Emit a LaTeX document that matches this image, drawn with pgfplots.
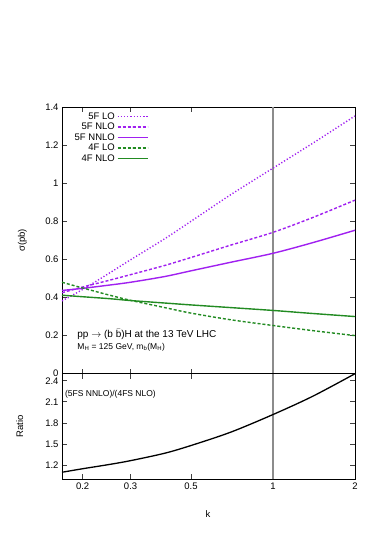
\documentclass[border=0pt]{standalone}
\usepackage{fontspec}
\setmainfont{Liberation Sans}
\usepackage{pgfplots}
\usepackage{pgfplotstable}
\pgfplotsset{compat=1.18}

\definecolor{fivef}{RGB}{160,32,240}
\definecolor{fourf}{RGB}{34,139,34}
\definecolor{kline}{RGB}{140,140,140}

% cross sections (pb) vs k
\pgfplotstableread{
k     lo5    nlo5   nnlo5  lo4    nlo4
0.168 0.382  0.425  0.437  0.480  0.412
0.2   0.442  0.455  0.448  0.450  0.404
0.25  0.527  0.490  0.465  0.413  0.394
0.3   0.598  0.520  0.480  0.385  0.384
0.4   0.708  0.568  0.510  0.347  0.371
0.5   0.800  0.610  0.540  0.318  0.361
0.7   0.940  0.675  0.585  0.283  0.347
1     1.079  0.742  0.632  0.253  0.332
1.4   1.210  0.820  0.688  0.226  0.316
2     1.353  0.911  0.753  0.200  0.300
}\xsec

% (5FS NNLO)/(4FS NLO)
\pgfplotstableread{
k     r
0.168 1.10
0.2   1.15
0.25  1.21
0.3   1.265
0.4   1.37
0.5   1.48
0.7   1.67
1     1.92
1.4   2.18
2     2.50
}\ratio

\pgfplotsset{
  every tick label/.append style={font=\fontsize{9.5}{11}\selectfont},
  every axis/.append style={
    scale only axis, width=293pt, xmode=log, xmin=0.168, xmax=2,
    xtick={0.2,0.3,0.5,1,2}, minor xtick={},
    major tick length=5pt, tick style={black!75, line width=0.8pt},
    axis line style={line width=0.9pt},
    /pgf/number format/assume math mode=true,
  },
}

\begin{document}
\begin{tikzpicture}
\path (0,0) rectangle (374pt,534pt);

\begin{axis}[
  at={(62pt,160.3pt)}, anchor=south west, height=266.7pt,
  ymin=0, ymax=1.4, ytick={0,0.2,...,1.4},
  xticklabels={},
  ylabel={σ(pb)},
  ylabel style={at={(axis description cs:-0.135,0.5)}, anchor=center, font=\fontsize{9.5}{11}\selectfont},
  legend cell align=right, legend plot pos=right,
  legend image code/.code={\draw[#1] plot coordinates {(0pt,0pt) (15pt,0pt) (30pt,0pt)};},
  legend style={draw=none, fill=none, at={(axis description cs:0.295,0.988)}, anchor=north east,
    font=\fontsize{9.5}{11}\selectfont, row sep=-1.6pt, inner sep=0pt},
]
\addplot[kline, line width=1.4pt, forget plot] coordinates {(1,0) (1,1.4)};
\addplot[color=fivef, line width=1.4pt, dash pattern=on 1.2pt off 2pt, smooth] table[x=k, y=lo5] {\xsec};
\addlegendentry{5F LO}
\addplot[color=fivef, line width=1.4pt, dash pattern=on 3pt off 2pt, smooth] table[x=k, y=nlo5] {\xsec};
\addlegendentry{5F NLO}
\addplot[color=fivef, line width=1.4pt, solid, smooth] table[x=k, y=nnlo5] {\xsec};
\addlegendentry{5F NNLO}
\addplot[color=fourf, line width=1.4pt, dash pattern=on 3pt off 2pt, smooth] table[x=k, y=lo4] {\xsec};
\addlegendentry{4F LO}
\addplot[color=fourf, line width=1.4pt, solid, smooth] table[x=k, y=nlo4] {\xsec};
\addlegendentry{4F NLO}
\node[anchor=base west, font=\fontsize{10}{12}\selectfont, inner sep=0pt]
  at (axis description cs:0.052,0.136) {pp $\rightarrow$ (b $\bar{\mbox{b}}$)H at the 13 TeV LHC};
\node[anchor=base west, font=\fontsize{8.5}{10}\selectfont, inner sep=0pt]
  at (axis description cs:0.052,0.092) {M\textsubscript{H} = 125 GeV, m\textsubscript{b}(M\textsubscript{H})};
\end{axis}

\begin{axis}[
  at={(62pt,54.7pt)}, anchor=south west, height=105.6pt,
  ymin=1, ymax=2.5, ytick={1.2,1.5,1.8,2.1,2.4},
  yticklabel style={/pgf/number format/.cd, fixed, fixed zerofill, precision=1},
  xticklabels={0.2,0.3,0.5,1,2},
  ylabel={Ratio}, xlabel={k},
  ylabel style={at={(axis description cs:-0.144,0.5)}, anchor=center, font=\fontsize{9.5}{11}\selectfont},
  xlabel style={at={(axis description cs:0.498,-0.33)}, anchor=center, font=\fontsize{9.5}{11}\selectfont},
]
\addplot[kline, line width=1.4pt] coordinates {(1,1) (1,2.5)};
\addplot[black, line width=1.3pt, smooth] table[x=k, y=r] {\ratio};
\node[anchor=base west, font=\fontsize{8.5}{10}\selectfont, inner sep=0pt]
  at (axis description cs:0.01,0.78) {(5FS NNLO)/(4FS NLO)};
\end{axis}
\end{tikzpicture}
\end{document}
